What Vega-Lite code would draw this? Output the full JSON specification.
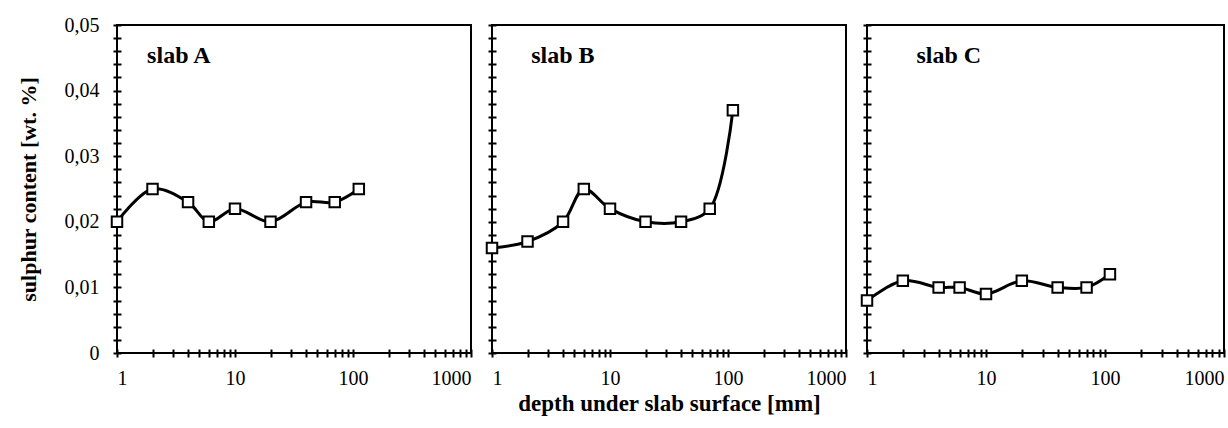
{
  "$schema": "https://vega.github.io/schema/vega-lite/v6.json",
  "padding": {"left": 16, "top": 14, "right": 0, "bottom": 0},
  "background": "white",
  "config": {
    "view": {"stroke": "black", "strokeWidth": 2},
    "font": "Liberation Serif",
    "axis": {"grid": false, "labelColor": "black", "titleColor": "black", "tickColor": "black", "tickWidth": 2, "labelFont": "Liberation Serif", "titleFont": "Liberation Serif", "labelFontSize": 20, "labelOverlap": false, "labelBound": false, "labelFlush": false}
  },
  "data": {"values": [
    {"slab": "A", "depth": 1, "S": 0.020},
    {"slab": "A", "depth": 2, "S": 0.025},
    {"slab": "A", "depth": 4, "S": 0.023},
    {"slab": "A", "depth": 6, "S": 0.020},
    {"slab": "A", "depth": 10, "S": 0.022},
    {"slab": "A", "depth": 20, "S": 0.020},
    {"slab": "A", "depth": 40, "S": 0.023},
    {"slab": "A", "depth": 70, "S": 0.023},
    {"slab": "A", "depth": 112, "S": 0.025},
    {"slab": "B", "depth": 1, "S": 0.016},
    {"slab": "B", "depth": 2, "S": 0.017},
    {"slab": "B", "depth": 4, "S": 0.020},
    {"slab": "B", "depth": 6, "S": 0.025},
    {"slab": "B", "depth": 10, "S": 0.022},
    {"slab": "B", "depth": 20, "S": 0.020},
    {"slab": "B", "depth": 40, "S": 0.020},
    {"slab": "B", "depth": 70, "S": 0.022},
    {"slab": "B", "depth": 110, "S": 0.037},
    {"slab": "C", "depth": 1, "S": 0.008},
    {"slab": "C", "depth": 2, "S": 0.011},
    {"slab": "C", "depth": 4, "S": 0.010},
    {"slab": "C", "depth": 6, "S": 0.010},
    {"slab": "C", "depth": 10, "S": 0.009},
    {"slab": "C", "depth": 20, "S": 0.011},
    {"slab": "C", "depth": 40, "S": 0.010},
    {"slab": "C", "depth": 70, "S": 0.010},
    {"slab": "C", "depth": 110, "S": 0.012}
  ]},
  "spacing": 8,
  "hconcat": [
    {
      "width": 354, "height": 328,
      "layer": [
        {
          "transform": [{"filter": "datum.slab == 'A'"}],
          "mark": {"type": "line", "color": "black", "strokeWidth": 3, "interpolate": "catmull-rom"},
          "encoding": {
            "x": {"field": "depth", "type": "quantitative", "scale": {"type": "log", "domain": [1, 1000], "nice": false},
              "axis": {"values": [1,2,3,4,5,6,7,8,9,10,20,30,40,50,60,70,80,90,100,200,300,400,500,600,700,800,900,1000], "tickCount": 100,
                "labelExpr": "(datum.value==1||datum.value==10||datum.value==100||datum.value==1000) ? format(datum.value,'d') : ''",
                "offset": -4, "domain": false, "tickSize": 8, "labelFlush": true,
                "labelPadding": 11, "title": null}},
            "y": {"field": "S", "type": "quantitative", "scale": {"domain": [0, 0.05], "nice": false},
              "axis": {"values": [0,0.002,0.004,0.006,0.008,0.01,0.012,0.014,0.016,0.018,0.02,0.022,0.024,0.026,0.028,0.03,0.032,0.034,0.036,0.038,0.04,0.042,0.044,0.046,0.048,0.05], "tickCount": 100,
                "labelExpr": "datum.value == 0 ? '0' : (round(datum.value*1000) % 10 == 0 ? replace(format(datum.value,'.2f'),'.',',') : '')",
                "offset": -4, "domain": false, "tickSize": 8,
                "labelPadding": 14,
                "title": "sulphur content [wt. %]", "titleFontSize": 22, "titleFontWeight": "bold", "titlePadding": 24}}
          }
        },
        {
          "transform": [{"filter": "datum.slab == 'A'"}],
          "mark": {"type": "point", "shape": "square", "filled": true, "fill": "white", "stroke": "black", "strokeWidth": 2, "size": 110, "opacity": 1},
          "encoding": {
            "x": {"field": "depth", "type": "quantitative"},
            "y": {"field": "S", "type": "quantitative"}
          }
        },
        {
          "data": {"values": [{"label": "slab A"}]},
          "mark": {"type": "text", "font": "Liberation Serif", "fontWeight": "bold", "fontSize": 24, "align": "left", "baseline": "middle", "color": "black"},
          "encoding": {
            "x": {"datum": 1.8, "type": "quantitative"},
            "y": {"datum": 0.0453, "type": "quantitative"},
            "text": {"field": "label"}
          }
        }
      ]
    },
    {
      "width": 354, "height": 328,
      "layer": [
        {
          "transform": [{"filter": "datum.slab == 'B'"}],
          "mark": {"type": "line", "color": "black", "strokeWidth": 3, "interpolate": "catmull-rom"},
          "encoding": {
            "x": {"field": "depth", "type": "quantitative", "scale": {"type": "log", "domain": [1, 1000], "nice": false},
              "axis": {"values": [1,2,3,4,5,6,7,8,9,10,20,30,40,50,60,70,80,90,100,200,300,400,500,600,700,800,900,1000], "tickCount": 100,
                "labelExpr": "(datum.value==1||datum.value==10||datum.value==100||datum.value==1000) ? format(datum.value,'d') : ''",
                "offset": -4, "domain": false, "tickSize": 8, "labelFlush": true,
                "labelPadding": 11,
                "title": "depth under slab surface [mm]", "titleFontSize": 23, "titleFontWeight": "bold", "titlePadding": 4}},
            "y": {"field": "S", "type": "quantitative", "scale": {"domain": [0, 0.05], "nice": false},
              "axis": {"values": [0,0.002,0.004,0.006,0.008,0.01,0.012,0.014,0.016,0.018,0.02,0.022,0.024,0.026,0.028,0.03,0.032,0.034,0.036,0.038,0.04,0.042,0.044,0.046,0.048,0.05], "tickCount": 100,
                "labels": false,
                "offset": -4, "domain": false, "tickSize": 8,
                "title": null}}
          }
        },
        {
          "transform": [{"filter": "datum.slab == 'B'"}],
          "mark": {"type": "point", "shape": "square", "filled": true, "fill": "white", "stroke": "black", "strokeWidth": 2, "size": 110, "opacity": 1},
          "encoding": {
            "x": {"field": "depth", "type": "quantitative"},
            "y": {"field": "S", "type": "quantitative"}
          }
        },
        {
          "data": {"values": [{"label": "slab B"}]},
          "mark": {"type": "text", "font": "Liberation Serif", "fontWeight": "bold", "fontSize": 24, "align": "left", "baseline": "middle", "color": "black"},
          "encoding": {
            "x": {"datum": 2.15, "type": "quantitative"},
            "y": {"datum": 0.0453, "type": "quantitative"},
            "text": {"field": "label"}
          }
        }
      ]
    },
    {
      "width": 357, "height": 328,
      "layer": [
        {
          "transform": [{"filter": "datum.slab == 'C'"}],
          "mark": {"type": "line", "color": "black", "strokeWidth": 3, "interpolate": "catmull-rom"},
          "encoding": {
            "x": {"field": "depth", "type": "quantitative", "scale": {"type": "log", "domain": [1, 1000], "nice": false},
              "axis": {"values": [1,2,3,4,5,6,7,8,9,10,20,30,40,50,60,70,80,90,100,200,300,400,500,600,700,800,900,1000], "tickCount": 100,
                "labelExpr": "(datum.value==1||datum.value==10||datum.value==100||datum.value==1000) ? format(datum.value,'d') : ''",
                "offset": -4, "domain": false, "tickSize": 8, "labelFlush": true,
                "labelPadding": 11, "title": null}},
            "y": {"field": "S", "type": "quantitative", "scale": {"domain": [0, 0.05], "nice": false},
              "axis": {"values": [0,0.002,0.004,0.006,0.008,0.01,0.012,0.014,0.016,0.018,0.02,0.022,0.024,0.026,0.028,0.03,0.032,0.034,0.036,0.038,0.04,0.042,0.044,0.046,0.048,0.05], "tickCount": 100,
                "labels": false,
                "offset": -4, "domain": false, "tickSize": 8,
                "title": null}}
          }
        },
        {
          "transform": [{"filter": "datum.slab == 'C'"}],
          "mark": {"type": "point", "shape": "square", "filled": true, "fill": "white", "stroke": "black", "strokeWidth": 2, "size": 110, "opacity": 1},
          "encoding": {
            "x": {"field": "depth", "type": "quantitative"},
            "y": {"field": "S", "type": "quantitative"}
          }
        },
        {
          "data": {"values": [{"label": "slab C"}]},
          "mark": {"type": "text", "font": "Liberation Serif", "fontWeight": "bold", "fontSize": 24, "align": "left", "baseline": "middle", "color": "black"},
          "encoding": {
            "x": {"datum": 2.6, "type": "quantitative"},
            "y": {"datum": 0.0453, "type": "quantitative"},
            "text": {"field": "label"}
          }
        }
      ]
    }
  ]
}
